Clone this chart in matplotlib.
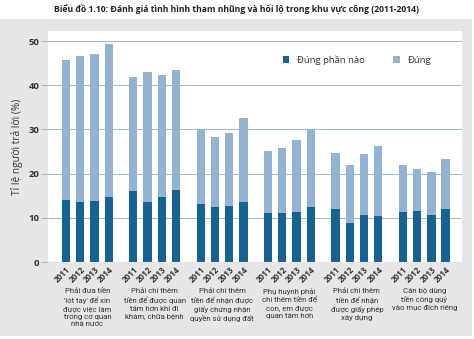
import matplotlib
matplotlib.use("Agg")
import matplotlib.pyplot as plt
from matplotlib.patches import Rectangle
import numpy as np

plt.rcParams['font.family'] = ['Open Sans', 'DejaVu Sans']

years = ["2011", "2012", "2013", "2014"]
categories = [
    "Phải đưa tiền\n'lót tay' để xin\nđược việc làm\ntrong cơ quan\nnhà nước",
    "Phải chi thêm\ntiền để được quan\ntâm hơn khi đi\nkhám, chữa bệnh",
    "Phải chi thêm\ntiền để nhận được\ngiấy chứng nhận\nquyền sử dụng đất",
    "Phụ huynh phải\nchi thêm tiền để\ncon, em được\nquan tâm hơn",
    "Phải chi thêm\ntiền để nhận\nđược giấy phép\nxây dựng",
    "Cán bộ dùng\ntiền công quỹ\nvào mục đích riêng",
]
# "Đúng phần nào" (partly true)
partly = [
    [14.1, 13.5, 13.9, 14.7],
    [16.0, 13.5, 14.8, 16.3],
    [13.2, 12.5, 12.6, 13.6],
    [11.0, 11.1, 11.3, 12.5],
    [11.9, 8.9, 10.7, 10.5],
    [11.4, 11.6, 10.7, 11.9],
]
# totals (partly + true)
totals = [
    [45.7, 46.5, 47.1, 49.4],
    [41.9, 42.9, 42.4, 43.4],
    [30.0, 28.2, 29.3, 32.6],
    [25.2, 25.9, 27.5, 30.0],
    [24.7, 22.0, 24.5, 26.2],
    [21.9, 21.1, 20.3, 23.4],
]
true_vals = [[t - p for t, p in zip(tr, pr)] for tr, pr in zip(totals, partly)]

dark = "#17628f"
light = "#93b4d0"
grid_c = "#a9b9c8"
txt = "#333333"

fig = plt.figure(figsize=(4.74, 3.39), dpi=100)
fig.patch.set_facecolor("white")
bg = Rectangle((0.0, 0.01), 0.995, 0.934, transform=fig.transFigure,
               facecolor="#e5e6e8", edgecolor="none", zorder=-10)
fig.add_artist(bg)
ax = fig.add_axes([0.101, 0.227, 0.874, 0.682])
ax.set_zorder(1)
ax.set_facecolor("white")

gpitch = 4.73
xs, xlabels = [], []
for g in range(len(categories)):
    pos = [g * gpitch + i for i in range(4)]
    ax.bar(pos, partly[g], width=0.58, color=dark, zorder=3,
           label="Đúng phần nào" if g == 0 else None)
    ax.bar(pos, true_vals[g], bottom=partly[g], width=0.58, color=light, zorder=3,
           label="Đúng" if g == 0 else None)
    xs += pos
    xlabels += years
    ax.text(g * gpitch + 1.5, -5.9, categories[g], ha="center", va="top",
            fontsize=5.6, color=txt, linespacing=1.35,
            family=['Roboto', 'DejaVu Sans'])

ax.set_xlim(-1.27, 5 * gpitch + 3 + 1.16)
ax.set_ylim(0, 52.3)
ax.set_yticks([0, 10, 20, 30, 40, 50])
ax.set_yticklabels(["0", "10", "20", "30", "40", "50"], fontsize=6.8, color=txt, fontweight="bold")
ax.set_xticks(xs)
ax.set_xticklabels(xlabels, rotation=45, ha="right", rotation_mode="anchor",
                   fontsize=5.8, color=txt, fontweight="bold")
ax.tick_params(axis="x", length=0, pad=2)
ax.tick_params(axis="y", length=5, color=grid_c, width=0.8, pad=1)
ax.grid(axis="y", color=grid_c, linewidth=0.8, zorder=1)
ax.set_axisbelow(True)
for s in ax.spines.values():
    s.set_visible(False)
ax.axhline(0, color=grid_c, linewidth=0.8, zorder=4)

ax.set_ylabel("Tỉ lệ người trả lời (%)", fontsize=7.3, color=txt, labelpad=4)

leg = ax.legend(loc="upper right", bbox_to_anchor=(0.945, 0.93), ncol=2, frameon=False,
                fontsize=6.8, handlelength=0.7, handleheight=0.7, columnspacing=3.0,
                handletextpad=0.8)
for t in leg.get_texts():
    t.set_color(txt)

fig.text(0.5, 0.97, "Biểu đồ 1.10: Đánh giá tình hình tham nhũng và hối lộ trong khu vực công (2011-2014)",
         ha="center", va="center", fontsize=6.2, fontweight="bold", color="#222222")

fig.savefig("out.png", dpi=100, facecolor=fig.get_facecolor())
